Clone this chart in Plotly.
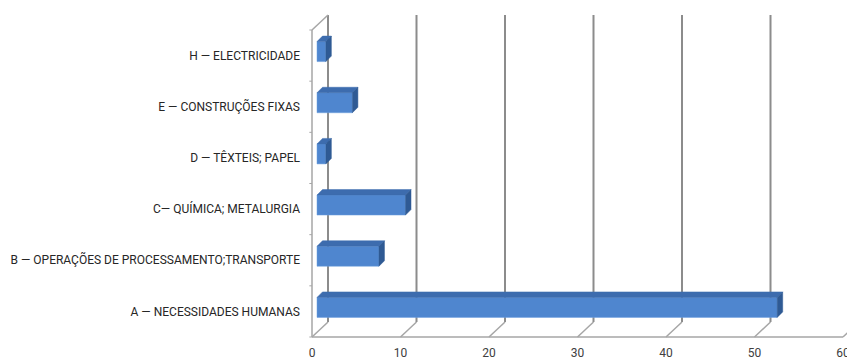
import plotly.graph_objects as go

# Patent counts by IPC section
categories = [
    "A — NECESSIDADES HUMANAS",
    "B — OPERAÇÕES DE PROCESSAMENTO;TRANSPORTE",
    "C— QUÍMICA; METALURGIA",
    "D — TÊXTEIS; PAPEL",
    "E — CONSTRUÇÕES FIXAS",
    "H — ELECTRICIDADE",
]
values = [52, 7, 10, 1, 4, 1]
x_ticks = [0, 10, 20, 30, 40, 50, 60]

# Pixel geometry of the pseudo-3D box
W, H = 847, 360
KX = 8.85            # px per x unit
KY = 307 / 6         # px per category band
X0_PX, Y0_PX = 312, 337   # front-bottom-left corner
L, R, T, B = 309, 0, 12, 20

x_range = [(L - X0_PX) / KX, (W - R - X0_PX) / KX]
y_range = [(Y0_PX - (H - B)) / KY, (Y0_PX - T) / KY]

# depth of the box (back wall offset) in data units
WDX, WDY = 16 / KX, 15 / KY
# bar placement inside the depth
BOX, BOY = 5 / KX, 4 / KY       # front face offset
BDX, BDY = 5.5 / KX, 5.5 / KY   # bar depth
BH = 20 / KY                    # bar thickness

n = len(categories)
centers = [i + 0.5 for i in range(n)]

grid_col = "#8c8c8c"
axis_col = "#a6a6a6"

shapes = []
# back wall gridlines
for v in x_ticks:
    shapes.append(dict(type="line", xref="x", yref="y", layer="below",
                       x0=v + WDX, x1=v + WDX, y0=WDY, y1=n + WDY,
                       line=dict(color=grid_col, width=2)))
    # floor diagonals
    shapes.append(dict(type="line", xref="x", yref="y", layer="below",
                       x0=v, x1=v + WDX, y0=0, y1=WDY,
                       line=dict(color=axis_col, width=1.5)))
# front axes and left wall top edge
shapes.append(dict(type="line", xref="x", yref="y", layer="below",
                   x0=0, x1=x_ticks[-1], y0=0, y1=0,
                   line=dict(color=axis_col, width=1.5)))
shapes.append(dict(type="line", xref="x", yref="y", layer="below",
                   x0=0, x1=0, y0=0, y1=n,
                   line=dict(color=axis_col, width=1.5)))
shapes.append(dict(type="line", xref="x", yref="y", layer="below",
                   x0=0, x1=WDX, y0=n, y1=n + WDY,
                   line=dict(color=axis_col, width=1.5)))
# category boundary ticks on the left axis
for i in range(n + 1):
    shapes.append(dict(type="line", xref="x", yref="y", layer="below",
                       x0=-0.3, x1=0, y0=i, y1=i,
                       line=dict(color=axis_col, width=1)))

fig = go.Figure()

# front faces of the bars
fig.add_trace(go.Bar(
    orientation="h",
    y=[c + BOY for c in centers],
    x=values,
    base=BOX,
    width=BH,
    marker=dict(color="#4F86CF", line=dict(color="#6fa0de", width=0.5)),
    hoverinfo="skip",
))

# top and side faces
top_x, top_y, side_x, side_y = [], [], [], []
for c, v in zip(centers, values):
    x0, x1 = BOX, BOX + v
    yb, yt = c + BOY - BH / 2, c + BOY + BH / 2
    top_x += [x0, x1, x1 + BDX, x0 + BDX, x0, None]
    top_y += [yt, yt, yt + BDY, yt + BDY, yt, None]
    side_x += [x1, x1, x1 + BDX, x1 + BDX, x1, None]
    side_y += [yb, yt, yt + BDY, yb + BDY, yb, None]

fig.add_trace(go.Scatter(x=top_x, y=top_y, mode="lines", fill="toself",
                         fillcolor="#3d6cae", line=dict(color="#3d6cae", width=0.5),
                         hoverinfo="skip"))
fig.add_trace(go.Scatter(x=side_x, y=side_y, mode="lines", fill="toself",
                         fillcolor="#2f5a94", line=dict(color="#2f5a94", width=0.5),
                         hoverinfo="skip"))

label_font = dict(family="Liberation Sans Narrow, Roboto, DejaVu Sans Condensed, sans-serif",
                  size=12, color="#262626")

fig.update_layout(
    width=W, height=H,
    margin=dict(l=L, r=R, t=T, b=B, autoexpand=False),
    plot_bgcolor="white", paper_bgcolor="white",
    showlegend=False,
    shapes=shapes,
    xaxis=dict(range=x_range, tickvals=x_ticks, ticktext=[str(v) for v in x_ticks],
               showgrid=False, zeroline=False, showline=False,
               ticks="", ticklabelstandoff=4, ticklabeloverflow="allow",
               tickfont=dict(family=label_font["family"], size=12, color="#404040")),
    yaxis=dict(range=y_range, tickvals=centers, ticktext=categories,
               showgrid=False, zeroline=False, showline=False,
               ticks="", ticklabelstandoff=8, tickfont=label_font),
)

fig.write_html("out.html")
